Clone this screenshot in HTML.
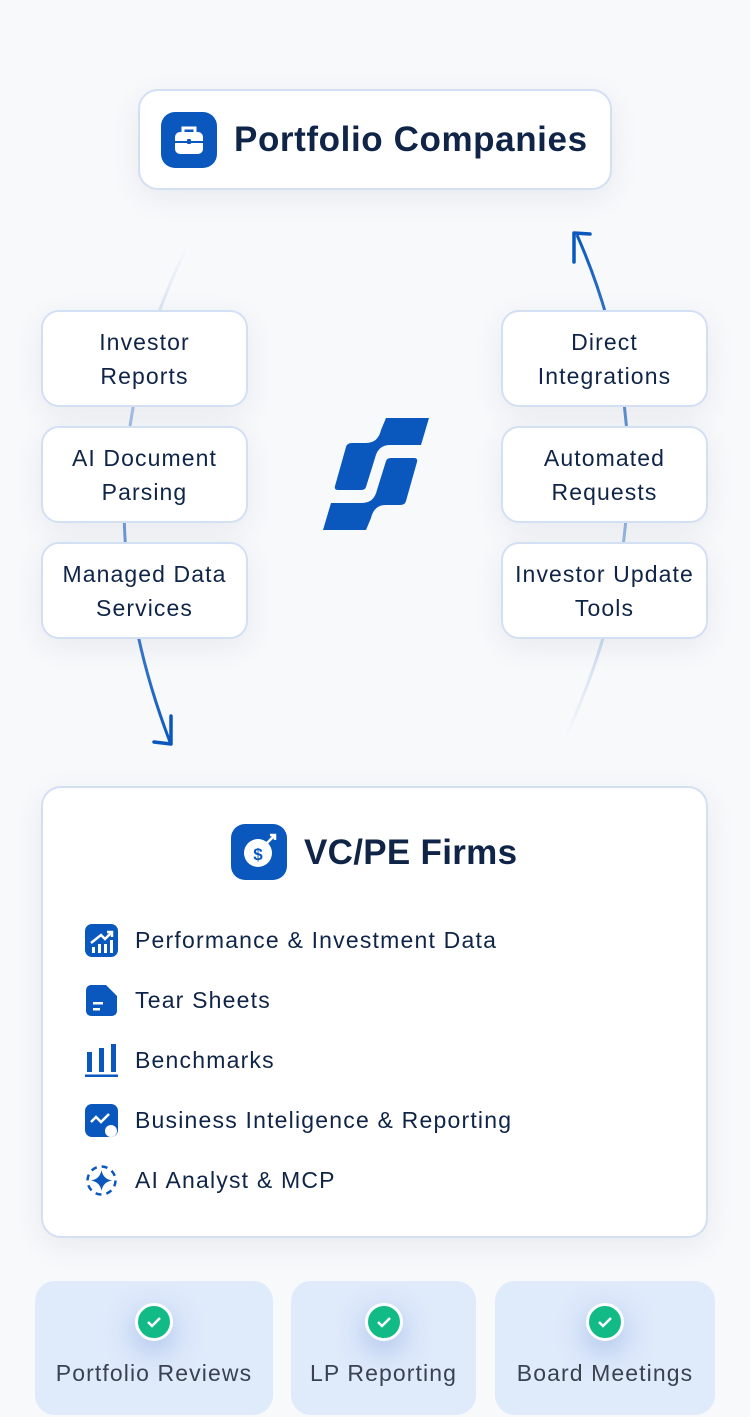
<!DOCTYPE html>
<html><head><meta charset="utf-8"><style>
*{margin:0;padding:0;box-sizing:border-box}
body{width:750px;height:1417px;background:#f8f9fb;position:relative;overflow:hidden;font-family:"Liberation Sans",sans-serif;color:#0f2447}
.box{position:absolute;background:#fff;border:2px solid #d3e0f3;border-radius:18px;box-shadow:0 8px 30px rgba(30,50,90,0.08)}
.sm{width:207px;height:97px;display:flex;align-items:center;justify-content:center;text-align:center;font-size:23px;line-height:34px;color:#0f2447;letter-spacing:1.1px}
.icon{position:absolute;background:#0a58be;border-radius:14px}
.item{position:absolute;left:135px;font-size:23px;line-height:26px;color:#0f2447;letter-spacing:1.2px}
.ic{position:absolute;left:85px;width:33px;height:33px}
.card{position:absolute;top:1281px;height:134px;background:#dfeafb;border-radius:20px;text-align:center}
.card .ck{position:absolute;top:22px;left:50%;margin-left:-19px;width:38px;height:38px;border-radius:50%;background:#12bb86;border:3px solid #fff;box-shadow:0 10px 30px rgba(60,110,200,0.35)}
.card .t{position:absolute;top:79px;left:0;right:0;font-size:23px;color:#3a4250;letter-spacing:1.1px}
</style></head><body>
<svg width="750" height="1417" style="position:absolute;left:0;top:0">
<defs>
<linearGradient id="gl" x1="0" y1="245" x2="0" y2="745" gradientUnits="userSpaceOnUse"><stop offset="0" stop-color="#0a58be" stop-opacity="0"/><stop offset="1" stop-color="#0a58be"/></linearGradient>
<linearGradient id="gr" x1="0" y1="738" x2="0" y2="232" gradientUnits="userSpaceOnUse"><stop offset="0" stop-color="#0a58be" stop-opacity="0"/><stop offset="1" stop-color="#0a58be"/></linearGradient>
</defs>
<path d="M188,245 Q70,480 170,742" fill="none" stroke="url(#gl)" stroke-width="3"/>
<path d="M154,742 L171,744 L171,716" fill="none" stroke="#0a58be" stroke-width="3.5" stroke-linecap="round" stroke-linejoin="round"/>
<path d="M565,738 Q685,480 577,235" fill="none" stroke="url(#gr)" stroke-width="3"/>
<path d="M574,262 L574,233 L590,234" fill="none" stroke="#0a58be" stroke-width="3.5" stroke-linecap="round" stroke-linejoin="round"/>
<g fill="#0a58be">
<path d="M386,418 L429,418 L421,445 L390,445 Q378,445 375,458 L366,487 Q365,490 361,490 L338,490 Q334,490 335,486 L346,447 Q347,443 352,443 L366,443 Q378,443 381,430 Z"/>
<path transform="translate(752,948) scale(-1,-1)" d="M386,418 L429,418 L421,445 L390,445 Q378,445 375,458 L366,487 Q365,490 361,490 L338,490 Q334,490 335,486 L346,447 Q347,443 352,443 L366,443 Q378,443 381,430 Z"/>
</g>
</svg>

<div class="box" style="left:138px;top:89px;width:474px;height:101px;border-radius:20px"></div>
<div class="icon" style="left:161px;top:112px;width:56px;height:56px">
<svg width="56" height="56"><rect x="14" y="20" width="28" height="22" rx="5" fill="#fff"/><path d="M22,20 v-4 h12 v4" fill="none" stroke="#fff" stroke-width="3"/><rect x="14" y="29" width="28" height="2" fill="#0a58be"/><rect x="26" y="27" width="4" height="5" rx="1" fill="#0a58be"/></svg>
</div>
<div style="position:absolute;left:234px;top:120px;font-size:35px;font-weight:bold;line-height:40px;color:#0f2447;letter-spacing:0.6px">Portfolio Companies</div>

<div class="box sm" style="left:41px;top:310px">Investor<br>Reports</div>
<div class="box sm" style="left:41px;top:426px">AI Document<br>Parsing</div>
<div class="box sm" style="left:41px;top:542px">Managed Data<br>Services</div>
<div class="box sm" style="left:501px;top:310px">Direct<br>Integrations</div>
<div class="box sm" style="left:501px;top:426px">Automated<br>Requests</div>
<div class="box sm" style="left:501px;top:542px">Investor Update<br>Tools</div>

<div class="box" style="left:41px;top:786px;width:667px;height:452px;border-radius:20px"></div>
<div class="icon" style="left:231px;top:824px;width:56px;height:56px">
<svg width="56" height="56"><circle cx="27" cy="29" r="14" fill="#fff"/><text x="27" y="36" font-size="17" font-weight="bold" text-anchor="middle" fill="#0a58be" font-family="Liberation Sans">$</text><path d="M36,19 L44,11 M39,11 h5 v5" stroke="#fff" stroke-width="2.5" fill="none"/></svg>
</div>
<div style="position:absolute;left:304px;top:833px;font-size:35px;font-weight:bold;line-height:40px;color:#0f2447;letter-spacing:0.3px">VC/PE Firms</div>

<svg class="ic" style="top:924px" viewBox="0 0 33 33"><rect width="33" height="33" rx="7" fill="#0a58be"/><path d="M6,19 L16,11 L20,15 L27,8 M22,8 h5 v5" stroke="#fff" stroke-width="2.5" fill="none"/><rect x="7" y="23" width="3" height="6" fill="#fff"/><rect x="13" y="20" width="3" height="9" fill="#fff"/><rect x="19" y="20" width="3" height="9" fill="#fff"/><rect x="25" y="16" width="3" height="13" fill="#fff"/></svg>
<div class="item" style="top:927px">Performance &amp; Investment Data</div>
<svg class="ic" style="top:984px" viewBox="0 0 33 33"><path d="M6,1 h15 l11,11 v15 a5,5 0 0 1 -5,5 h-21 a5,5 0 0 1 -5,-5 v-21 a5,5 0 0 1 5,-5z" fill="#0a58be"/><rect x="8" y="18" width="10" height="2.5" fill="#fff"/><rect x="8" y="24" width="7" height="2.5" fill="#fff"/></svg>
<div class="item" style="top:987px">Tear Sheets</div>
<svg class="ic" style="top:1044px" viewBox="0 0 33 33"><rect x="2" y="8" width="5" height="20" fill="#0a58be"/><rect x="14" y="4" width="5" height="24" fill="#0a58be"/><rect x="26" y="0" width="5" height="28" fill="#0a58be"/><rect x="0" y="30.5" width="33" height="2.5" fill="#0a58be"/></svg>
<div class="item" style="top:1047px">Benchmarks</div>
<svg class="ic" style="top:1104px" viewBox="0 0 33 33"><rect width="33" height="33" rx="7" fill="#0a58be"/><path d="M6,18 l5,-5 l5,5 l8,-8" stroke="#fff" stroke-width="2.5" fill="none"/><circle cx="26" cy="27" r="6" fill="#fff"/></svg>
<div class="item" style="top:1107px">Business Inteligence &amp; Reporting</div>
<svg class="ic" style="top:1164px" viewBox="0 0 33 33"><path d="M16.5,6 Q18,15 27,16.5 Q18,18 16.5,27 Q15,18 6,16.5 Q15,15 16.5,6z" fill="#0a58be"/><circle cx="16.5" cy="16.5" r="14" fill="none" stroke="#0a58be" stroke-width="2.5" stroke-dasharray="6 5"/></svg>
<div class="item" style="top:1167px">AI Analyst &amp; MCP</div>

<div class="card" style="left:35px;width:238px"><div class="ck"><svg width="32" height="32"><path d="M10,16 l4,4 l8,-8" stroke="#fff" stroke-width="2.5" fill="none"/></svg></div><div class="t">Portfolio Reviews</div></div>
<div class="card" style="left:291px;width:185px"><div class="ck"><svg width="32" height="32"><path d="M10,16 l4,4 l8,-8" stroke="#fff" stroke-width="2.5" fill="none"/></svg></div><div class="t">LP Reporting</div></div>
<div class="card" style="left:495px;width:220px"><div class="ck"><svg width="32" height="32"><path d="M10,16 l4,4 l8,-8" stroke="#fff" stroke-width="2.5" fill="none"/></svg></div><div class="t">Board Meetings</div></div>
</body></html>
